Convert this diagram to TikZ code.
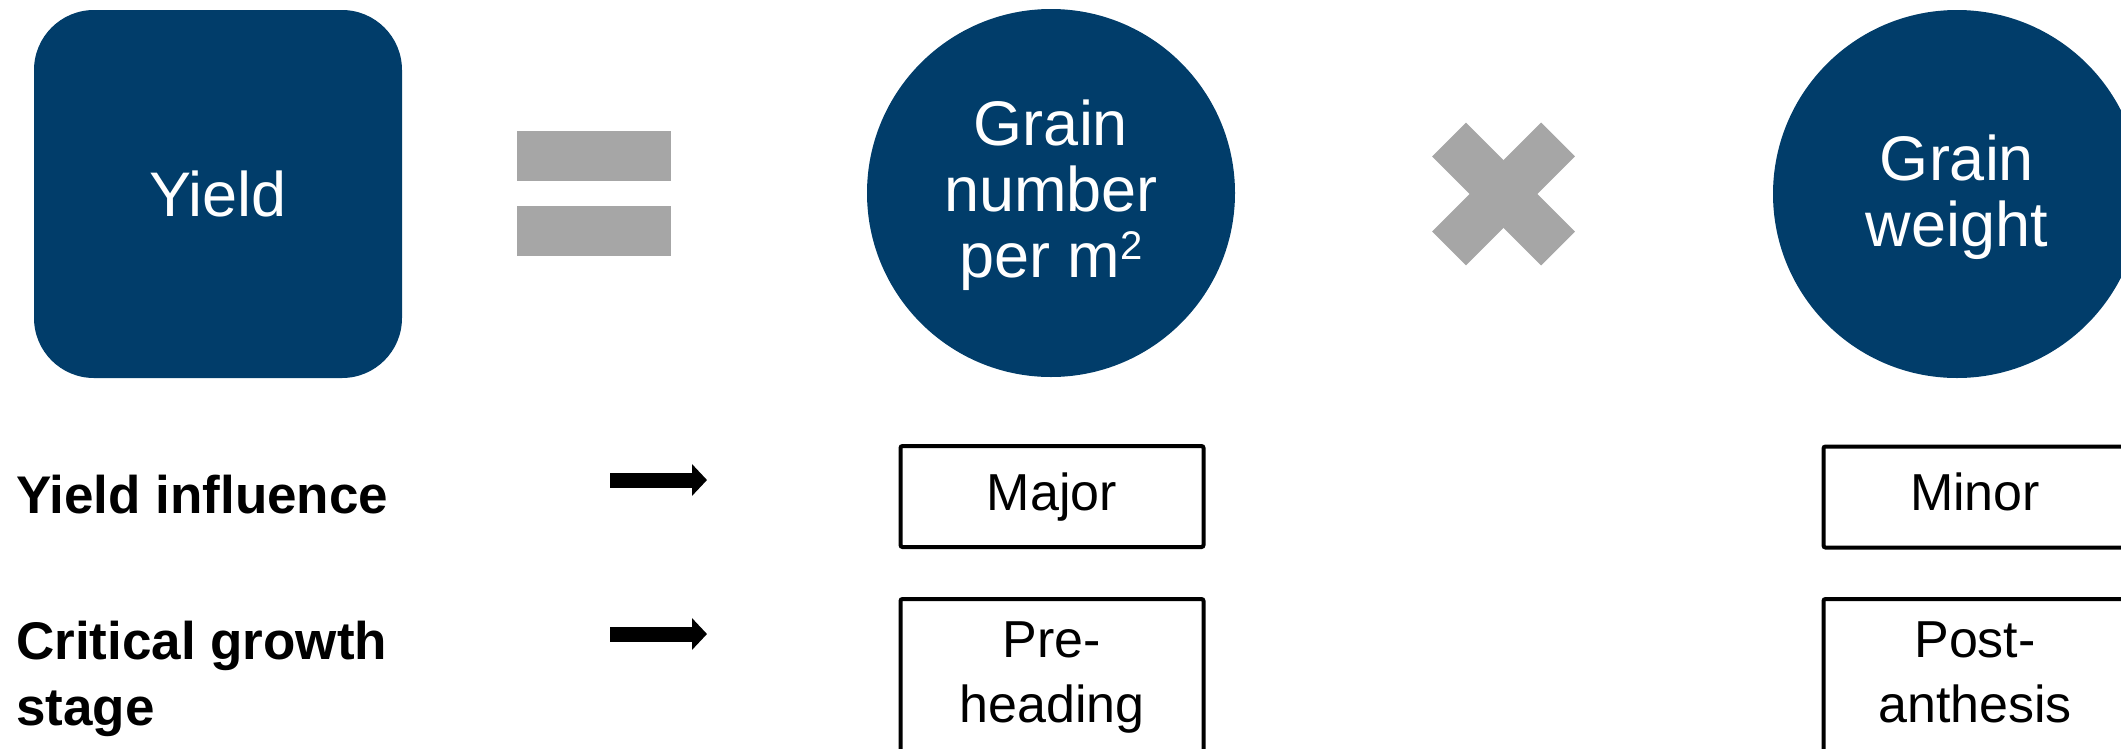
\documentclass[tikz,border=0pt]{standalone}
\usepackage{fontspec}
\setmainfont{Liberation Sans}
\usetikzlibrary{arrows.meta,positioning}
\definecolor{wheatblue}{RGB}{1,61,106}
\definecolor{signgray}{RGB}{166,166,166}
\tikzstyle{line} = [draw, line width=15pt, -{Triangle[length=15pt, width=31pt]}]
\tikzstyle{yieldbox} = [rectangle, fill=wheatblue, rounded corners=60pt, minimum width=368pt, minimum height=368pt, text=white, font=\fontsize{63}{66}\selectfont]
\tikzstyle{disc} = [circle, fill=wheatblue, minimum size=368pt, inner sep=0pt]
\tikzstyle{disctext} = [inner sep=0pt, text=white, align=center, anchor=north, font=\fontsize{63}{66}\selectfont]
\tikzstyle{valbox} = [rectangle, draw, line width=4pt, rounded corners=2pt, minimum width=303pt, minimum height=101pt, text height=38pt, text depth=11pt, font=\fontsize{52}{65}\selectfont]
\tikzstyle{valtext} = [inner sep=0pt, align=center, font=\fontsize{52}{65}\selectfont]
\tikzstyle{rowlabel} = [inner sep=0pt, align=left, font=\fontsize{53}{66}\selectfont\bfseries]
\tikzstyle{bar} = [fill=signgray]
\tikzstyle{cross} = [draw=signgray, line width=48pt]

\begin{document}
\begin{tikzpicture}[x=1pt, y=-1pt]
	\useasboundingbox (0,0) rectangle (2121,748);
	\clip (0,0) rectangle (2121,748);
	% top row: yield = number x weight
	\node [yieldbox] (yield) at (218,194) {Yield};
	\fill [bar] (517,131) rectangle (671,181);
	\fill [bar] (517,206) rectangle (671,256);
	\node [disc] (gnum) at (1051,193) {};
	\node [disctext] (gnumtxt) at (1051,100) {Grain\\number\\per m\raisebox{18pt}{\fontsize{40}{40}\selectfont 2}};
	\draw [cross] (1449,139.5) -- (1558,248.5);
	\draw [cross] (1449,248.5) -- (1558,139.5);
	\node [disc] (gwt) at (1957,194) {};
	\node [disctext] (gwttxt) at (1957,135) {Grain\\weight};
	
	% rows
	\node [rowlabel, anchor=base west] (infl) at (16,513) {Yield influence};
	\node [rowlabel, anchor=north west] (stage) at (16,621) {Critical growth\\stage};
	\coordinate (infl_s) at (610,480);
	\coordinate (infl_e) at (707,480);
	\coordinate (stage_s) at (610,634);
	\coordinate (stage_e) at (707,634);
	\path [line] (infl_s) -- (infl_e);
	\path [line] (stage_s) -- (stage_e);
	
	\node [valbox] (major) at (1052,496.5) {Major};
	\node [valbox] (minor) at (1975,497) {Minor};
	\node [valbox, anchor=north, minimum height=180pt] (preh) at (1052,597) {};
	\node [valtext, below=25pt of preh.north] (prehtxt) {Pre-\\heading};
	\node [valbox, anchor=north, minimum height=180pt] (posta) at (1975,597) {};
	\node [valtext, below=25pt of posta.north] (postatxt) {Post-\\anthesis};
\end{tikzpicture}
\end{document}
